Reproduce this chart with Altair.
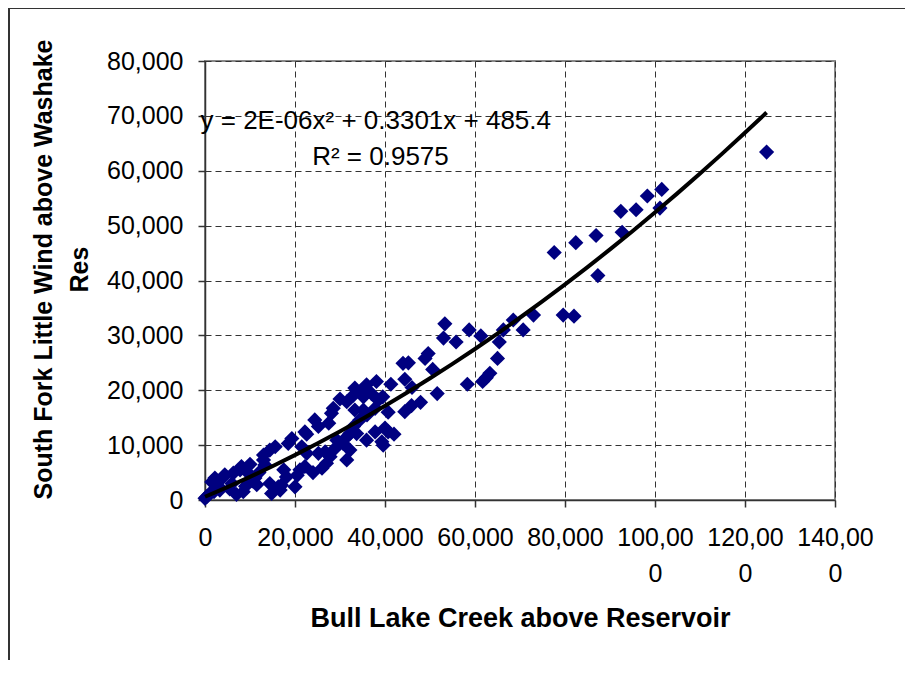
import altair as alt
import pandas as pd

# Bull Lake Creek above Reservoir (x) vs South Fork Little Wind above Washake Res (y)
bull_lake = [
    124800, 101500, 101100, 98300, 95800, 92400, 92700, 86900, 82400, 77600,
    87300, 79600, 82000, 73000, 68500, 70700, 66300, 65400, 61300, 58700,
    65000, 63300, 61700, 62500, 58300, 53300, 53000, 55800, 49600, 48900,
    50600, 45200, 44400, 46000, 41300, 39500, 51600, 47900, 45900, 44400,
    40700, 40000, 38100, 35900, 34800, 33300, 33000, 31500, 35200, 37000,
    38500, 37800, 28500, 28100, 33300, 35200, 34400, 33000, 32200, 35900,
    37800, 39300, 40700, 39600, 24400, 25200, 22200, 22600, 29300, 30700,
    28900, 26700, 25200, 27800, 31500, 27000, 22600, 19300, 18500, 21500,
    15600, 14400, 13000, 13000, 13300, 8100, 7800, 4400, 2200, 6300,
    9600, 11100, 14400, 16300, 14800, 7000, 3300, 400, 1100, 0,
    20000, 18100, 17000, 21100, 22200, 31500, 33700, 32200, 26000, 24000,
    16700, 1500, 4100, 5500, 9000, 10500, 12000, 3000, 6000, 2000,
    8500, 11500, 30000, 36000, 44000, 42000, 27500, 20500, 10000, 17500,
]
south_fork = [
    63400, 56600, 53200, 55400, 52900, 52600, 48800, 48200, 46900, 45100,
    40900, 33700, 33500, 33700, 32800, 31000, 31000, 28800, 29900, 31000,
    25800, 23100, 21600, 22300, 21100, 32100, 29500, 28800, 26700, 25800,
    23800, 25000, 22000, 20500, 21100, 18800, 19400, 17800, 17200, 16100,
    16000, 13100, 21600, 21000, 20000, 20400, 19100, 17900, 18800, 19400,
    18200, 16700, 16700, 15800, 16400, 16400, 14600, 13400, 12100, 10900,
    12400, 10600, 12400, 10000, 14600, 13400, 12400, 12000, 10900, 10300,
    9400, 8800, 8500, 7900, 7300, 6700, 8500, 11200, 10300, 9700,
    9700, 9100, 8200, 7300, 6400, 6100, 5500, 4600, 4000, 4900,
    4900, 4000, 3000, 2400, 1200, 1000, 1800, 600, 1200, 300,
    2400, 4200, 2700, 5500, 6100, 11500, 12100, 9100, 5800, 5000,
    1800, 3300, 4200, 2000, 2500, 3500, 5000, 2500, 3000, 1500,
    1500, 2800, 18400, 15500, 24900, 12000, 14000, 4500, 6500, 5500,
]

x_ticks = [0, 20000, 40000, 60000, 80000, 100000, 120000, 140000]
y_ticks = [0, 10000, 20000, 30000, 40000, 50000, 60000, 70000, 80000]

eq_text = ["y = 2E-06x² + 0.3301x + 485.4", "R² = 0.9575"]
eq_x = [-1000, 39000]
eq_y = [69000, 62500]
eq_align = ["left", "center"]

df = pd.DataFrame({"bull": bull_lake, "south": south_fork})
ann = pd.DataFrame({"t": eq_text, "x": eq_x, "y": eq_y, "al": eq_align})

FONT = "Liberation Sans"

xscale = alt.Scale(domain=[0, 140000], nice=False, zero=True)
yscale = alt.Scale(domain=[0, 80000], nice=False, zero=True)

x_axis = alt.Axis(
    values=x_ticks, format=",d", title="Bull Lake Creek above Reservoir",
    labelExpr="length(datum.label) > 6 ? [substring(datum.label, 0, 6), substring(datum.label, 6)] : datum.label",
    labelLineHeight=36, labelPadding=18, titlePadding=19, labelFlush=False,
    labelOverlap=False, titleFontSize=27,
)
y_axis = alt.Axis(
    values=y_ticks, format=",d",
    title=["South Fork Little Wind above Washake", "Res"],
    titleLineHeight=36, labelPadding=15, titlePadding=14,
    titleFontSize=25, titleY=208,
)

X = alt.X("bull:Q", scale=xscale, axis=x_axis)
Y = alt.Y("south:Q", scale=yscale, axis=y_axis)

points = alt.Chart(df).mark_point(
    shape="diamond", filled=True, size=230, color="#000080", opacity=1
).encode(x=X, y=Y)

trend = alt.Chart(df).transform_regression(
    "bull", "south", method="poly", order=2
).mark_line(color="black", strokeWidth=4).encode(x=X, y=Y)

ann_x = alt.X("x:Q", scale=xscale, axis=x_axis)
ann_y = alt.Y("y:Q", scale=yscale, axis=y_axis)

left_ann = alt.Chart(ann).transform_filter(alt.datum.al == "left").mark_text(
    align="left", baseline="middle", font=FONT, fontSize=26, color="black"
).encode(x=ann_x, y=ann_y, text="t:N")

center_ann = alt.Chart(ann).transform_filter(alt.datum.al == "center").mark_text(
    align="center", baseline="middle", font=FONT, fontSize=26, color="black"
).encode(x=ann_x, y=ann_y, text="t:N")

frame_df = pd.DataFrame({"a": [0]})
frame_left = alt.Chart(frame_df).mark_rule(color="#333333", strokeWidth=2).encode(
    x=alt.value(-196), y=alt.value(-53), y2=alt.value(700)
)
frame_top = alt.Chart(frame_df).mark_rule(color="#333333", strokeWidth=2).encode(
    x=alt.value(-196), x2=alt.value(800), y=alt.value(-53)
)

chart = alt.layer(
    points, trend, left_ann, center_ann, frame_left, frame_top
).properties(
    width=630, height=439,
    autosize=alt.AutoSizeParams(type="none"),
    padding={"left": 197, "top": 53, "right": 70, "bottom": 160},
    background="white",
).configure_axis(
    labelFont=FONT, labelFontSize=25, labelColor="black",
    titleFont=FONT, titleFontWeight="bold", titleColor="black",
    grid=True, gridColor="#333333", gridDash=[6, 4], gridWidth=1,
    tickColor="#333333", tickSize=7, tickWidth=1.5,
    domainColor="#333333", domainWidth=1.5,
).configure_view(
    stroke="#888888", strokeWidth=2
)

chart.save("out.html", embed_options={"renderer": "svg", "actions": False})
